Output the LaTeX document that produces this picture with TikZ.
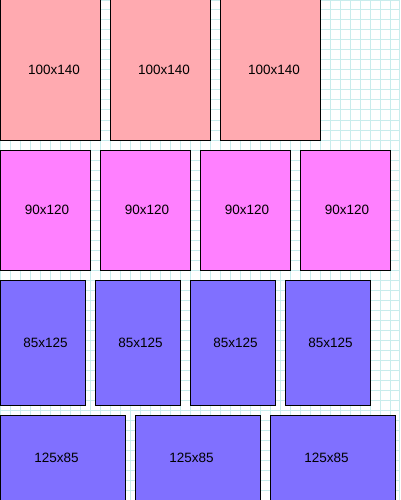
\documentclass[tikz,border=0pt]{standalone}
\usepackage{fontspec}
\setmainfont{Liberation Sans}
\usepackage{xcolor}
\usetikzlibrary{positioning}
\definecolor{cardpink}{RGB}{255,170,176}
\definecolor{cardmagenta}{RGB}{255,128,255}
\definecolor{cardblue}{RGB}{128,112,255}
\definecolor{gridcyan}{RGB}{200,236,236}
\tikzset{
  card/.style     = {draw=black, line width=1pt, inner sep=0pt, outer sep=0pt,
                     anchor=north west},
  cpink/.style    = {card, fill=cardpink, minimum width=100pt, minimum height=140pt},
  cmagenta/.style = {card, fill=cardmagenta, minimum width=90pt, minimum height=120pt},
  cport/.style    = {card, fill=cardblue, minimum width=85pt, minimum height=125pt},
  cland/.style    = {card, fill=cardblue, minimum width=125pt, minimum height=85pt},
  size/.style     = {font=\fontsize{13.5}{16}\selectfont}
}

\begin{document}
\begin{tikzpicture}[x=1pt, y=-1pt]
  \useasboundingbox (0,0) rectangle (400,500);
  \fill[white] (0,0) rectangle (400,500);
  \draw[gridcyan, line width=1pt, step=10pt] (0pt,-500pt) grid (400pt,0pt);
  % row 1
  \foreach \i/\x in {1/0, 2/110, 3/220}
    \node[cpink, label={[size, xshift=4pt]center:100x140}] (pink\i) at (\x,0) {};
  % row 2
  \foreach \i/\x in {1/0, 2/100, 3/200, 4/300}
    \node[cmagenta, label={[size, xshift=2pt]center:90x120}] (mag\i) at (\x,150) {};
  % row 3
  \foreach \i/\x in {1/0, 2/95, 3/190, 4/285}
    \node[cport, label={[size, xshift=3pt]center:85x125}] (port\i) at (\x,280) {};
  % row 4
  \foreach \i/\x in {1/0, 2/135, 3/270}
    \node[cland, label={[size, xshift=-6pt]center:125x85}] (land\i) at (\x,415) {};
\end{tikzpicture}
\end{document}
